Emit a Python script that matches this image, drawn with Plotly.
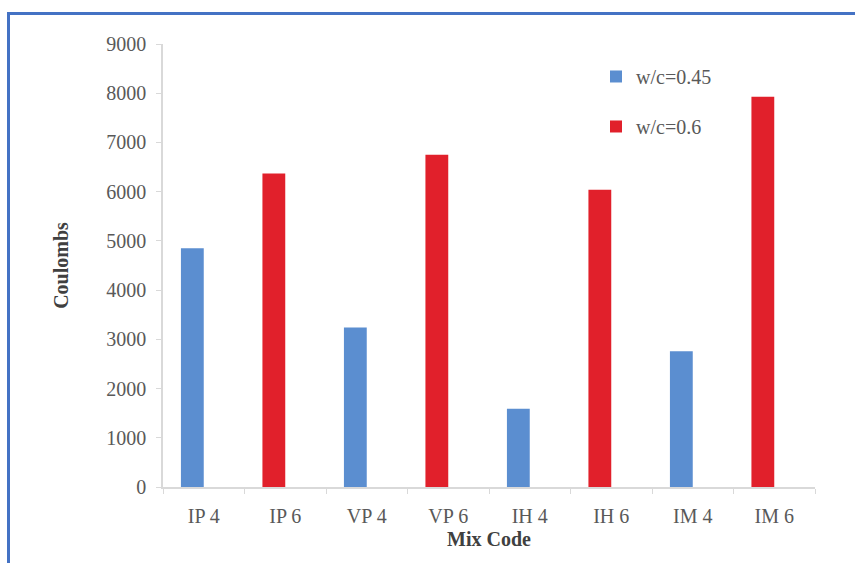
import plotly.graph_objects as go

# Rapid chloride permeability results per mix
categories = ["IP 4", "IP 6", "VP 4", "VP 6", "IH 4", "IH 6", "IM 4", "IM 6"]
mix_045 = ["IP 4", "VP 4", "IH 4", "IM 4"]
coulombs_045 = [4850, 3240, 1590, 2760]
mix_060 = ["IP 6", "VP 6", "IH 6", "IM 6"]
coulombs_060 = [6370, 6750, 6040, 7930]
y_ticks = [0, 1000, 2000, 3000, 4000, 5000, 6000, 7000, 8000, 9000]

blue = "#5B8ED0"
red = "#E1202B"
serif = "Liberation Serif, Times New Roman, serif"
tick_grey = "#595959"
title_grey = "#404040"
axis_grey = "#D9D9D9"
fs = 20

fig = go.Figure()
fig.add_trace(go.Bar(
    x=mix_045, y=coulombs_045, name="w/c=0.45",
    marker=dict(color=blue, line=dict(width=0)),
    offset=-0.28, width=0.28, legendgroup="a",
))
fig.add_trace(go.Bar(
    x=mix_060, y=coulombs_060, name="w/c=0.6",
    marker=dict(color=red, line=dict(width=0)),
    offset=-0.28, width=0.28, legendgroup="b",
))

W, H = 855, 563
L, R, T, B = 163, 40, 44, 75.5
pw, ph = W - L - R, H - T - B


def px_x(p):
    return (p - L) / pw


def px_y(p):
    return (H - B - p) / ph


# blue frame around the chart
fig.add_shape(
    type="rect", xref="paper", yref="paper",
    x0=px_x(8.5), x1=px_x(870), y0=px_y(580), y1=px_y(13.5),
    line=dict(color="#4472C4", width=3), fillcolor="rgba(0,0,0,0)",
    layer="below",
)

fig.update_layout(
    width=W, height=H,
    margin=dict(l=L, r=R, t=T, b=B),
    paper_bgcolor="white", plot_bgcolor="white",
    barmode="overlay",
    font=dict(family=serif, size=fs, color=tick_grey),
    showlegend=True,
    legend=dict(
        x=px_x(596), y=px_y(57), xanchor="left", yanchor="top",
        bgcolor="rgba(0,0,0,0)", font=dict(family=serif, size=fs, color=tick_grey),
        tracegroupgap=21, itemwidth=30,
    ),
    xaxis=dict(
        categoryorder="array", categoryarray=categories,
        range=[-0.5, 7.5],
        showline=True, linecolor=axis_grey, linewidth=1.5,
        ticks="outside", tickson="boundaries", ticklen=5, tickcolor=axis_grey,
        showgrid=False, zeroline=False,
        tickfont=dict(family=serif, size=fs, color=tick_grey),
        ticklabelstandoff=10,
        title=dict(text="<b>Mix Code</b>", font=dict(family=serif, size=fs, color=title_grey), standoff=6),
    ),
    yaxis=dict(
        range=[0, 9000], tickvals=y_ticks,
        showline=True, linecolor=axis_grey, linewidth=1.5,
        ticks="outside", ticklen=5, tickcolor=axis_grey,
        showgrid=False, zeroline=False,
        tickfont=dict(family=serif, size=fs, color=tick_grey),
        ticklabelstandoff=6,
        title=dict(text="<b>Coulombs</b>", font=dict(family=serif, size=fs, color=title_grey), standoff=32),
    ),
)

fig.write_html("out.html")
